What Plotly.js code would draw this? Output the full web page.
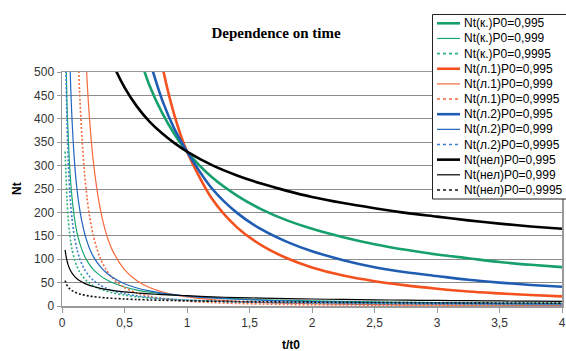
<!DOCTYPE html>
<html><head><meta charset="utf-8">
<script src="https://cdn.plot.ly/plotly-3.0.1.min.js"></script>
<style>html,body{margin:0;padding:0;background:#fff;}#chart{width:566px;height:351px;}</style>
</head><body><div id="chart"></div>
<script>
// t/t0 sample points
const T = [0.025,0.03,0.04,0.05,0.06,0.07,0.08,0.1,0.12,0.14,0.16,0.18,0.2,0.22,0.25,0.3,0.35,0.4,0.5,0.6,0.7,0.8,0.9,1.0,1.2,1.4,1.6,1.8,2.0,2.25,2.5,2.75,3.0,3.25,3.5,3.75,4.0];
const _ = null;
// Nt(к.)
const nt_k_995  = [_,_,_,_,_,_,_,_,_,_,_,_,_,_,_,_,_,_,_,550,471,413,367,330,275,236,206,183,165,147,132,120,110,102,94,88,83];
const nt_k_999  = [_,560,430,362,304,263,232,187,157,136,120,107,97,88.5,78.4,66,57,50.2,40.6,34.1,29.5,26,23.2,21,17.7,15.3,13.4,12.0,10.9,9.7,8.8,8.0,7.4,6.9,6.4,6.0,5.6];
const nt_k_9995 = [330,294,227,185,157,137,121,99.4,84.3,73.3,65.1,58.6,53.2,48.9,43.5,37.0,32.2,28.5,23.3,19.8,17.2,15.3,13.7,12.5,10.6,9.2,8.2,7.4,6.7,6.0,5.5,5.0,4.7,4.3,4.0,3.8,3.6];
// Nt(л.1)
const nt_l1_995  = [_,_,_,_,_,_,_,_,_,_,_,_,_,_,_,_,_,_,_,_,673,516,407,330,229,168,129,102,82.5,65,53,44,37,31,27,23.5,20.6];
const nt_l1_999  = [_,_,_,_,_,_,_,_,_,_,_,599,485,401,310,216,158,121,77.6,53.9,39.6,30.3,24.0,19.4,13.5,9.9,7.6,6.0,4.85,3.8,3.1,2.6,2.2,1.8,1.6,1.4,1.2];
const nt_l1_9995 = [_,_,_,_,_,_,_,_,622,462,358,285,232,193,151,106,79,61,39.6,27.9,20.7,16.0,12.7,10.4,7.3,5.4,4.2,3.3,2.7,2.2,1.8,1.5,1.25,1.07,0.93,0.81,0.72];
// Nt(л.2)
const nt_l2_995  = [_,_,_,_,_,_,_,_,_,_,_,_,_,_,_,_,_,_,_,_,525,441,378,330,251,199,163,137,117,98,83,72,64,56,50,45,41];
const nt_l2_999  = [_,_,_,688,556,465,399,308,249,209,179,156,138,123,106,86.1,72.0,61.7,47.6,38.5,32.2,27.6,24.1,21.3,17.3,14.4,12.4,10.8,9.5,8.3,7.4,6.6,6.0,5.4,5.0,4.6,4.3];
const nt_l2_9995 = [647,533,391,309,253,215,187,147,121,102.5,88.9,78.3,70.0,63.2,55.1,45.3,38.5,33.3,26.3,21.6,18.3,15.9,14.0,12.5,10.3,8.7,7.6,6.7,6.0,5.2,4.7,4.2,3.9,3.5,3.3,3.0,2.8];
// Nt(нел)
const nt_nel_995  = [_,_,_,_,_,_,_,_,_,_,_,_,_,_,_,_,558,522,467,426,394,369,348,330,301,279,261,246,233,220,209,199,191,183,176,170,165];
const nt_nel_999  = [120,110.4,96.7,87.3,80.2,74.7,70.3,63.4,58.3,54.3,51.1,48.4,46.1,44.1,41.6,38.3,35.7,33.5,30.3,27.8,25.9,24.4,23.1,22,19.5,18,16.8,15.8,15,14,13.2,12.5,11.9,11.3,10.8,10.3,9.9];
const nt_nel_9995 = [54.2,50.2,44.3,40.2,37.2,34.8,32.9,29.9,27.6,25.8,24.4,23.2,22.2,21.3,20.1,18.6,17.4,16.5,15.0,13.8,12.9,12.2,11.6,11.1,10.3,9.6,9.1,8.6,8.2,7.8,7.5,7.2,6.9,6.7,6.5,6.3,6.1];

const seriesNames = ["Nt(к.)P0=0,995","Nt(к.)P0=0,999","Nt(к.)P0=0,9995",
  "Nt(л.1)P0=0,995","Nt(л.1)P0=0,999","Nt(л.1)P0=0,9995",
  "Nt(л.2)P0=0,995","Nt(л.2)P0=0,999","Nt(л.2)P0=0,9995",
  "Nt(нел)P0=0,995","Nt(нел)P0=0,999","Nt(нел)P0=0,9995"];
const seriesValues = [nt_k_995,nt_k_999,nt_k_9995,nt_l1_995,nt_l1_999,nt_l1_9995,
  nt_l2_995,nt_l2_999,nt_l2_9995,nt_nel_995,nt_nel_999,nt_nel_9995];
const xTickVals = [0,0.5,1,1.5,2,2.5,3,3.5,4];
const xTickText = ["0","0,5","1","1,5","2","2,5","3","3,5","4"];

// styles
const familyColors = ["#16a06c","#f4511e","#1f5db3","#000000"];
const thinColors = ["#1aa672","#f66a3c","#2166c0","#000000"];
const dotColors = ["#2bb07e","#f66a3c","#3a7fd0","#111111"];
function styleFor(i){
  const fam = Math.floor(i/3), kind = i%3;
  if(kind===0) return {color:familyColors[fam], width:2.6, dash:"solid"};
  if(kind===1) return {color:thinColors[fam], width:1.2, dash:"solid"};
  return {color:dotColors[fam], width:1.6, dash:"2px,2px"};
}

const traces = seriesValues.map((v,i)=>({
  type:"scatter", mode:"lines", x:T, y:v, name:seriesNames[i],
  line:Object.assign({shape:"spline", smoothing:0.8}, styleFor(i)),
  connectgaps:false, showlegend:false, hoverinfo:"skip"
}));

// layout geometry
const W=566,H=351,ML=62,MR=4,MT=72,MB=45;
const PW=W-ML-MR, PH=H-MT-MB;
const px=x=>(x-ML)/PW, py=y=>(H-MB-y)/PH;

const shapes=[], annotations=[];
// legend box
shapes.push({type:"rect", xref:"paper", yref:"paper", x0:px(432.5), x1:px(567), y0:py(14.5), y1:py(199), line:{color:"#222",width:1}, fillcolor:"#fff", layer:"above"});
seriesNames.forEach((n,i)=>{
  const yc = 23.3 + i*15.15;
  const st = styleFor(i);
  shapes.push({type:"line", xref:"paper", yref:"paper", x0:px(437), x1:px(460), y0:py(yc), y1:py(yc),
    line:{color:st.color, width:st.width, dash: st.dash==="solid"?"solid":"3px,3px"}, layer:"above"});
  annotations.push({xref:"paper", yref:"paper", x:px(461.5), y:py(yc), xanchor:"left", yanchor:"middle",
    text:n, showarrow:false, font:{family:"Liberation Sans, Arial, sans-serif", size:12, color:"#000"}});
});
// axis titles
annotations.push({xref:"paper", yref:"paper", x:px(17), y:py(189), text:"<b>Nt</b>", textangle:-90, showarrow:false,
  xanchor:"center", yanchor:"middle", font:{family:"Liberation Sans, Arial, sans-serif", size:12, color:"#000"}});
annotations.push({xref:"paper", yref:"paper", x:px(291), y:py(336), text:"<b>t/t0</b>", showarrow:false,
  xanchor:"center", yanchor:"top", font:{family:"Liberation Sans, Arial, sans-serif", size:12, color:"#000"}});

const layout = {
  width:W, height:H, margin:{l:ML,r:MR,t:MT,b:MB,pad:0},
  paper_bgcolor:"#fff", plot_bgcolor:"#fff", showlegend:false,
  title:{text:"<b>Dependence on time</b>", x:276/W, xref:"container", xanchor:"center", y:1-33/H, yref:"container", yanchor:"middle",
    font:{family:"Liberation Serif, Times New Roman, serif", size:15, color:"#000"}},
  xaxis:{range:[0,4], tickvals:xTickVals, ticktext:xTickText, showgrid:false, zeroline:false,
    showline:true, linecolor:"#9a9a9a", linewidth:1.5, mirror:true, ticks:"outside", ticklen:5, tickcolor:"#9a9a9a",
    tickfont:{family:"Liberation Sans, Arial, sans-serif", size:12, color:"#333"}, fixedrange:true},
  yaxis:{range:[0,500], dtick:50, showgrid:true, gridcolor:"#8c8c8c", gridwidth:1, zeroline:false,
    showline:true, linecolor:"#9a9a9a", linewidth:1.5, mirror:true, ticks:"outside", ticklen:4, tickcolor:"#9a9a9a",
    tickfont:{family:"Liberation Sans, Arial, sans-serif", size:12, color:"#333"}, fixedrange:true},
  shapes:shapes, annotations:annotations
};
Plotly.newPlot("chart", traces, layout, {staticPlot:true, displayModeBar:false});
</script></body></html>
